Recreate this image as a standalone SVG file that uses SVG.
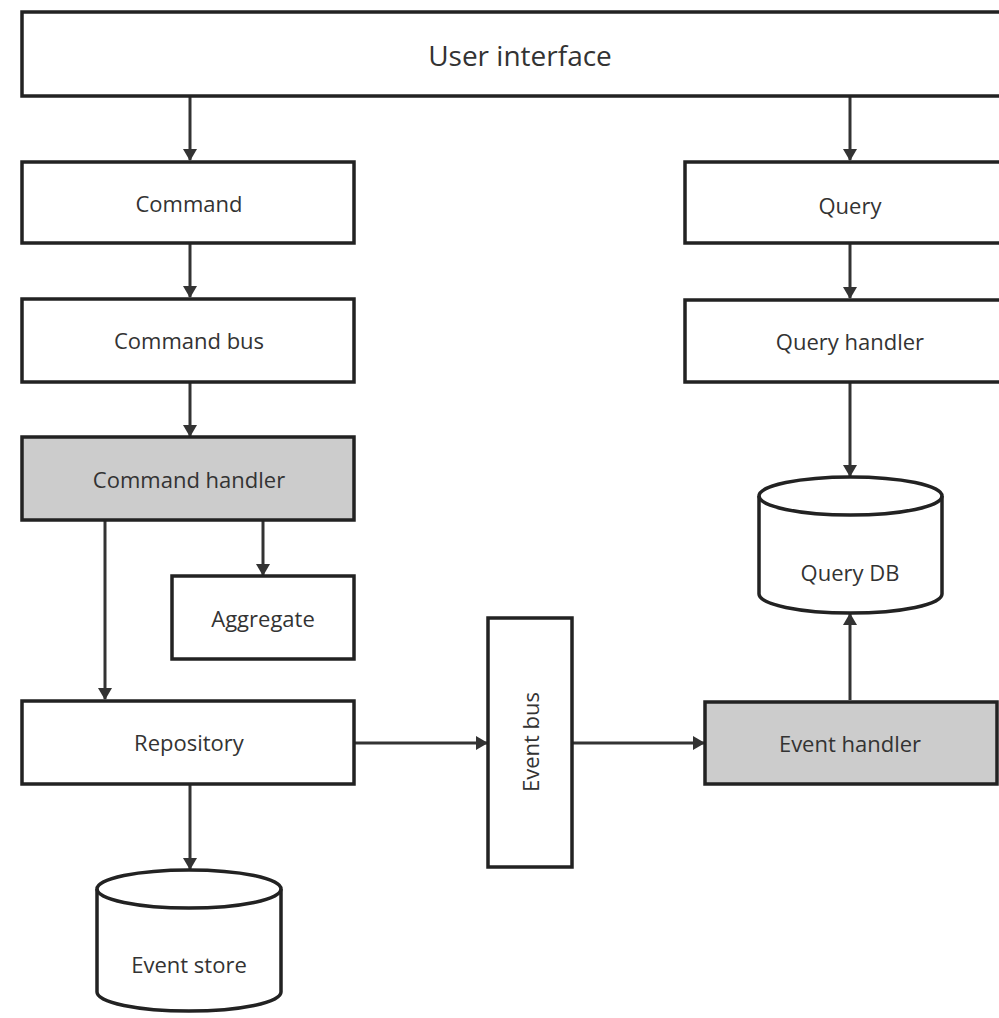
<svg xmlns="http://www.w3.org/2000/svg" width="999" height="1018" viewBox="0 0 999 1018">
  <style>
    .box { fill: #ffffff; stroke: #222222; stroke-width: 3.5; }
    .hl { fill: #cccccc; }
    .lbl { font-family: "Open Sans", "Liberation Sans", sans-serif; font-size: 22px; fill: #333333; text-anchor: middle; dominant-baseline: central; }
    .big { font-size: 28px; }
    .edge { stroke: #333333; stroke-width: 3; fill: none; marker-end: url(#arrow); }
  </style>
  <defs>
    <marker id="arrow" viewBox="0 0 12 14" refX="11" refY="7" markerWidth="12" markerHeight="14" markerUnits="userSpaceOnUse" orient="auto">
      <path d="M0,0 L12,7 L0,14 Z" fill="#333333"/>
    </marker>
  </defs>
  <rect width="999" height="1018" fill="#ffffff"/>

  <g id="connectors">
    <line class="edge" x1="190" y1="96" x2="190" y2="160"/>
    <line class="edge" x1="190" y1="243" x2="190" y2="297"/>
    <line class="edge" x1="190" y1="382" x2="190" y2="436"/>
    <line class="edge" x1="263" y1="520" x2="263" y2="575"/>
    <line class="edge" x1="105" y1="520" x2="105" y2="699"/>
    <line class="edge" x1="190" y1="784" x2="190" y2="869"/>
    <line class="edge" x1="354" y1="743" x2="487" y2="743"/>
    <line class="edge" x1="572" y1="743" x2="704" y2="743"/>
    <line class="edge" x1="850" y1="700" x2="850" y2="614"/>
    <line class="edge" x1="850" y1="96" x2="850" y2="160"/>
    <line class="edge" x1="850" y1="243" x2="850" y2="298"/>
    <line class="edge" x1="850" y1="382" x2="850" y2="476"/>
  </g>

  <g id="user-interface">
    <rect class="box" x="22" y="12" width="990" height="84"/>
    <text class="lbl big" x="520" y="55">User interface</text>
  </g>
  <g id="command">
    <rect class="box" x="22" y="162" width="332" height="81"/>
    <text class="lbl" x="189" y="203">Command</text>
  </g>
  <g id="command-bus">
    <rect class="box" x="22" y="299" width="332" height="83"/>
    <text class="lbl" x="189" y="340">Command bus</text>
  </g>
  <g id="command-handler">
    <rect class="box hl" x="22" y="437" width="332" height="83"/>
    <text class="lbl" x="189" y="479">Command handler</text>
  </g>
  <g id="aggregate">
    <rect class="box" x="172" y="576" width="182" height="83"/>
    <text class="lbl" x="263" y="618">Aggregate</text>
  </g>
  <g id="repository">
    <rect class="box" x="22" y="701" width="332" height="83"/>
    <text class="lbl" x="189" y="742">Repository</text>
  </g>
  <g id="event-store">
    <path class="box" d="M97,889 A92,19 0 0 1 281,889 L281,992 A92,19 0 0 1 97,992 Z"/>
    <path d="M97,889 A92,19 0 0 0 281,889" fill="none" stroke="#222222" stroke-width="3.5"/>
    <text class="lbl" x="189" y="964">Event store</text>
  </g>
  <g id="event-bus">
    <rect class="box" x="488" y="618" width="84" height="249"/>
    <text class="lbl" x="530" y="742" transform="rotate(-90 530 742)">Event bus</text>
  </g>
  <g id="event-handler">
    <rect class="box hl" x="705" y="702" width="292" height="82"/>
    <text class="lbl" x="850" y="743">Event handler</text>
  </g>
  <g id="query">
    <rect class="box" x="685" y="162" width="330" height="81"/>
    <text class="lbl" x="850" y="205">Query</text>
  </g>
  <g id="query-handler">
    <rect class="box" x="685" y="300" width="330" height="82"/>
    <text class="lbl" x="850" y="341">Query handler</text>
  </g>
  <g id="query-db">
    <path class="box" d="M759,496 A91.5,19 0 0 1 942,496 L942,594 A91.5,19 0 0 1 759,594 Z"/>
    <path d="M759,496 A91.5,19 0 0 0 942,496" fill="none" stroke="#222222" stroke-width="3.5"/>
    <text class="lbl" x="850" y="572">Query DB</text>
  </g>
</svg>
